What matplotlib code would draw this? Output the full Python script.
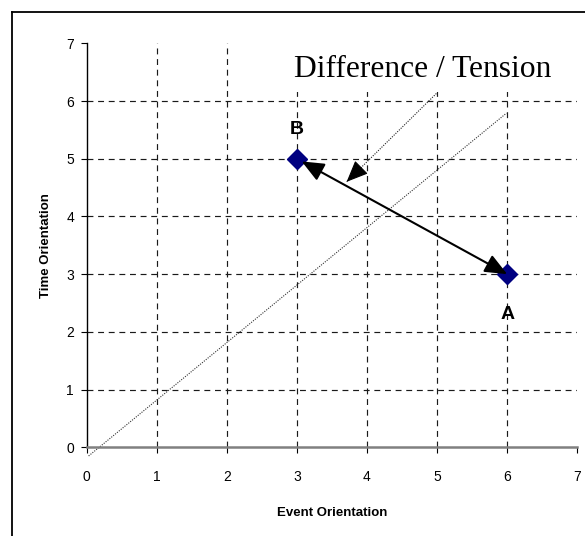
import matplotlib
matplotlib.use("Agg")
from matplotlib import pyplot as plt
from matplotlib.lines import Line2D
from matplotlib.patches import Rectangle

# ---- data ----
point_x = [6, 3]
point_y = [3, 5]
point_names = ["A", "B"]
label_offset_y = [-0.7, 0.5]

# long dotted reference line (near diagonal)
diag_x = [0.03, 5.99]
diag_y = [-0.15, 5.79]

# short dotted arrow pointing towards the A-B line
pull_x = [4.99, 3.71]
pull_y = [6.13, 4.60]

ticks = [0, 1, 2, 3, 4, 5, 6, 7]
grid_ticks = [1, 2, 3, 4, 5, 6]

sans = "Liberation Sans"
serif = "Liberation Serif"

fig = plt.figure(figsize=(5.85, 5.36), dpi=100)
ax = fig.add_axes([0.1479, 0.1655, 0.8389, 0.7537])

ax.set_xlim(0, 7)
ax.set_ylim(0, 7)

# dashed grid, drawn by hand so there is none at 0 or 7
for g in grid_ticks:
    ax.axhline(g, color="#1a1a1a", lw=0.85, dashes=(5, 4), zorder=1)
    ax.axvline(g, color="#1a1a1a", lw=0.85, dashes=(5, 4), zorder=1)

# spines
ax.spines["top"].set_visible(False)
ax.spines["right"].set_visible(False)
ax.spines["left"].set_color("black")
ax.spines["left"].set_linewidth(1.0)
ax.spines["bottom"].set_color("#808080")
ax.spines["bottom"].set_linewidth(1.8)

ax.set_xticks(ticks)
ax.set_yticks(ticks)
ax.tick_params(axis="x", direction="out", length=4, width=0.8, color="black",
               pad=12, labelsize=10)
ax.tick_params(axis="y", direction="out", length=4, width=0.8, color="black",
               pad=5, labelsize=10)
for lab in ax.get_xticklabels() + ax.get_yticklabels():
    lab.set_fontfamily(sans)

ax.set_xlabel("Event Orientation", fontfamily=sans, fontweight="bold",
              fontsize=9.5, labelpad=17)
ax.set_ylabel("Time Orientation", fontfamily=sans, fontweight="bold",
              fontsize=9.5, labelpad=10)

# white box behind the title text hides the grid there
ax.add_patch(Rectangle((0.404, 0.879), 0.6, 0.125, transform=ax.transAxes,
                       facecolor="white", edgecolor="none", zorder=1.5,
                       clip_on=False))

# dotted diagonal
ax.plot(diag_x, diag_y, color="#333333", lw=0.8, linestyle=(0, (1, 1.2)),
        clip_on=False, zorder=2)

# dotted arrow towards the A-B line: dotted shaft, solid head
ax.plot(pull_x, pull_y, color="#222222", lw=0.8, linestyle=(0, (1, 1.2)),
        zorder=3)
frac = 0.16
head_from = (pull_x[1] + frac * (pull_x[0] - pull_x[1]),
             pull_y[1] + frac * (pull_y[0] - pull_y[1]))
ax.annotate("", xy=(pull_x[1], pull_y[1]), xytext=head_from,
            arrowprops=dict(arrowstyle="-|>,head_length=0.75,head_width=0.32",
                            mutation_scale=18, color="black", lw=0.8,
                            shrinkA=0, shrinkB=0),
            zorder=3)

# points
ax.plot(point_x, point_y, linestyle="none", marker="D", markersize=10.5,
        color="#000080", zorder=4)

# double headed arrow between B and A
ax.annotate("", xy=(point_x[0], point_y[0]), xytext=(point_x[1], point_y[1]),
            arrowprops=dict(arrowstyle="<|-|>,head_length=0.75,head_width=0.32",
                            mutation_scale=18, color="black", lw=1.5,
                            shrinkA=4, shrinkB=0),
            zorder=5)

for x, y, name, dy in zip(point_x, point_y, point_names, label_offset_y):
    ax.text(x, y + dy, name, ha="center", va="center", fontfamily=sans,
            fontweight="bold", fontsize=14)

ax.text(0.423, 0.917, "Difference / Tension", transform=ax.transAxes,
        ha="left", va="baseline", fontfamily=serif, fontsize=22.7, zorder=6)

# outer frame (only the left and top edges are visible in the crop)
fx0 = 11.5 / 585
fy0 = 1 - 12 / 536
fig.add_artist(Line2D([fx0, fx0], [0, fy0], color="black", lw=1.3,
                      transform=fig.transFigure))
fig.add_artist(Line2D([fx0, 1], [fy0, fy0], color="black", lw=1.3,
                      transform=fig.transFigure))

fig.savefig("out.png", dpi=100)
